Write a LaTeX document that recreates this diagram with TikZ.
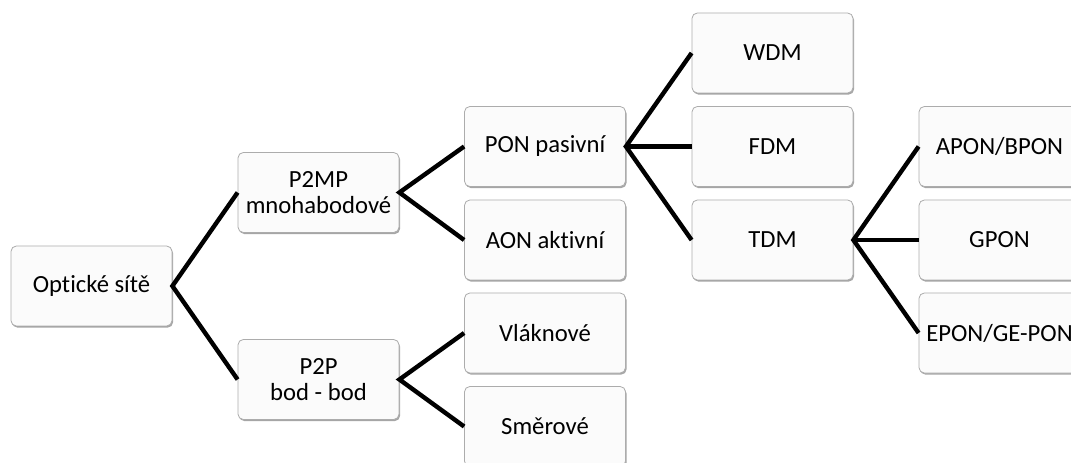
\documentclass[tikz,border=0pt]{standalone}
\usepackage{fontspec}
\setmainfont{Carlito}[Ligatures=NoCommon]
\usepackage{pgf,tikz}
\usetikzlibrary{shadows}
\tikzset{
  box/.style={draw=gray!65,fill=gray!3,rounded corners=4pt,line width=0.6pt,
    minimum width=120.75pt,minimum height=60pt,inner sep=0pt,align=center,
    font=\fontsize{18.5}{19.5}\selectfont,
    drop shadow={shadow xshift=0.8pt,shadow yshift=-1.2pt,fill=black,opacity=0.35}},
  link/.style={line width=3.3pt,line cap=butt,line join=miter}
}
\begin{document}
\begin{tikzpicture}[x=0.75pt,y=-0.75pt]
\clip(0,0) rectangle (1071,463);
\node[box] (opt) at (91.5,286) {Optické sítě};
\node[box] (p2mp) at (318.5,192.5) {P2MP\\mnohabodové};
\node[box] (p2p) at (318.5,379.5) {P2P\\bod - bod};
\node[box] (pon) at (545,146.5) {PON pasivní};
\node[box] (aon) at (545,240) {AON aktivní};
\node[box] (vlak) at (545,333) {Vláknové};
\node[box] (smer) at (545,426.5) {Směrové};
\node[box] (wdm) at (772.5,53) {WDM};
\node[box] (fdm) at (772.5,146.5) {FDM};
\node[box] (tdm) at (772.5,240) {TDM};
\node[box] (apon) at (999.5,146.5) {APON/BPON};
\node[box] (gpon) at (999.5,240) {GPON};
\node[box] (epon) at (999.5,333) {EPON/GE-PON};
\draw [link] (p2mp.west)-- (opt.east)-- (p2p.west);
\draw [link] (pon.west)-- (p2mp.east)-- (aon.west);
\draw [link] (vlak.west)-- (p2p.east)-- (smer.west);
\draw [link] (wdm.west)-- (pon.east)-- (tdm.west);
\draw [link] (pon.east)-- (fdm.west);
\draw [link] (apon.west)-- (tdm.east)-- (epon.west);
\draw [link] (tdm.east)-- (gpon.west);
\end{tikzpicture}
\end{document}
